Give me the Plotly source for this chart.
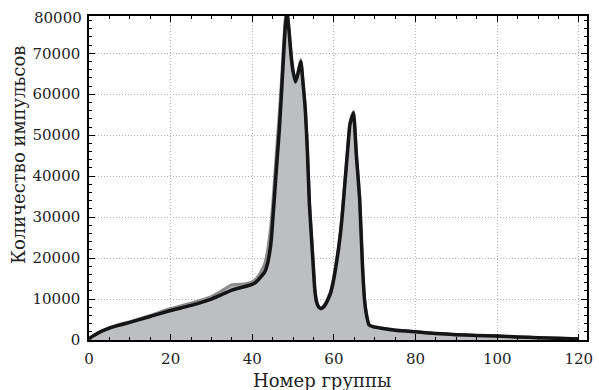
import plotly.graph_objects as go

# group number (x) and pulse counts
x_black = [0, 1, 2, 3, 5, 7, 10, 15, 20, 25, 30, 33, 35, 38, 40, 41, 42, 43, 43.7, 44.2,
           44.6, 45, 45.5, 46, 46.6, 47.2, 47.7, 48.1, 48.5, 49, 49.5, 50, 50.6, 51.2,
           51.9, 52.4, 53, 53.5, 54, 54.5, 55, 55.3, 55.7, 56.2, 56.7, 57.3, 58, 58.6, 59.2,
           59.8, 60.5, 61.1, 61.6, 62, 62.5, 63, 63.5, 63.9, 64.3, 64.8, 65.5, 66.3, 67, 67.5,
           68, 68.6, 69.7, 72, 75, 80, 85, 90, 95, 100, 105, 110, 115, 120]
y_black = [300, 1000, 1600, 2100, 2900, 3500, 4300, 5750, 7200, 8450, 10000, 11300, 12200,
           13000, 13600, 14200, 15300, 16500, 18500, 21000, 24000, 29000, 36000, 43000,
           51000, 61000, 70000, 76500, 80000, 75500, 69500, 65500, 63000, 65000, 68000,
           63000, 56000, 46000, 33000, 25000, 17000, 12500, 9500, 8100, 7700, 7900, 8800,
           10000, 11500, 14000, 18000, 22000, 26000, 30000, 36000, 42000, 48000, 52500,
           54000, 55500, 45000, 34500, 18000, 9800, 6000, 3700, 3200, 2800, 2400, 2000, 1600,
           1300, 1100, 950, 750, 550, 400, 250]

x_gray = [0, 1, 2, 3, 5, 7, 10, 15, 20, 25, 30, 33, 35, 38, 40, 41, 42, 43, 43.7, 44.2,
          44.6, 45, 45.5, 46, 46.6, 47.2, 47.7, 48.1, 48.5, 49, 49.5, 50, 50.6, 51.2,
          51.9, 52.4, 53, 53.5, 54, 54.5, 55, 55.3, 55.7, 56.2, 56.7, 57.3, 58, 58.6, 59.2,
          59.8, 60.5, 61.1, 61.6, 62, 62.5, 63, 63.5, 63.9, 64.3, 64.8, 65.5, 66.3, 67, 67.5,
          68, 68.6, 69.7, 72, 75, 80, 85, 90, 95, 100, 105, 110, 115, 120]
y_gray = [200, 900, 1500, 2100, 3000, 3700, 4500, 6000, 7700, 9000, 10600, 12300, 13500,
          13700, 14200, 15000, 16500, 18500, 21500, 25000, 28500, 33000, 40000, 47000,
          55000, 64000, 73000, 78500, 81000, 76000, 70000, 65800, 63300, 65500, 68500,
          63500, 56500, 47000, 34000, 26000, 18000, 13000, 9800, 8300, 7900, 8100, 9100,
          10400, 12000, 14600, 18600, 22600, 26600, 30500, 36500, 42500, 48500, 53000,
          54500, 55800, 45500, 35000, 18500, 10200, 6200, 3800, 3300, 2900, 2500, 2000, 1600,
          1300, 1100, 950, 750, 550, 400, 250]

x_ticks = [0, 20, 40, 60, 80, 100, 120]
y_ticks = [0, 10000, 20000, 30000, 40000, 50000, 60000, 70000]

FONT = "DejaVu Serif"
TXT = "#222"

fig = go.Figure()
fig.add_trace(go.Scatter(x=x_gray, y=y_gray, mode="lines", fill="tozeroy",
                         fillcolor="#bdbec2",
                         line=dict(color="#8c8c8c", width=3, shape="spline", smoothing=0.5),
                         showlegend=False))
fig.add_trace(go.Scatter(x=x_black, y=y_black, mode="lines",
                         line=dict(color="#151515", width=3.5, shape="spline", smoothing=0.5),
                         showlegend=False))

axis_common = dict(
    showline=True, linecolor="black", linewidth=1.5, mirror="allticks",
    ticks="inside", ticklen=6, tickwidth=1.2, tickcolor="black",
    showgrid=True, gridcolor="#b4b4b4", griddash="1px,2px", gridwidth=1,
    zeroline=False, tickfont=dict(family=FONT, size=15, color=TXT),
)

fig.update_xaxes(range=[0, 122], tickvals=x_ticks, tickformat="d",
                 minor=dict(dtick=5, ticks="inside", ticklen=3.5, tickcolor="black", showgrid=False),
                 ticklabelstandoff=4, **axis_common)
fig.update_yaxes(range=[0, 79100], tickvals=y_ticks, tickformat="d",
                 minor=dict(dtick=2000, ticks="inside", ticklen=3.5, tickcolor="black", showgrid=False),
                 ticklabelstandoff=4, **axis_common)

# axis titles (placed as annotations to match the reference offsets)
fig.add_annotation(text="Номер группы", xref="paper", yref="paper", x=0.468, y=0,
                   xanchor="center", yanchor="middle", yshift=-40, showarrow=False,
                   font=dict(family=FONT, size=18, color=TXT))
fig.add_annotation(text="Количество импульсов", xref="paper", yref="paper", x=0, y=0.571,
                   xanchor="center", yanchor="middle", xshift=-70, textangle=-90,
                   showarrow=False, font=dict(family=FONT, size=18, color=TXT))

fig.add_annotation(text="80000", xref="paper", yref="paper", x=0, y=1, xanchor="right",
                   yanchor="middle", xshift=-5, yshift=-2, showarrow=False,
                   font=dict(family=FONT, size=15, color=TXT))

fig.update_layout(width=599, height=390, margin=dict(l=89, r=6, t=16, b=50),
                  paper_bgcolor="white", plot_bgcolor="white")

fig.write_html("out.html")
